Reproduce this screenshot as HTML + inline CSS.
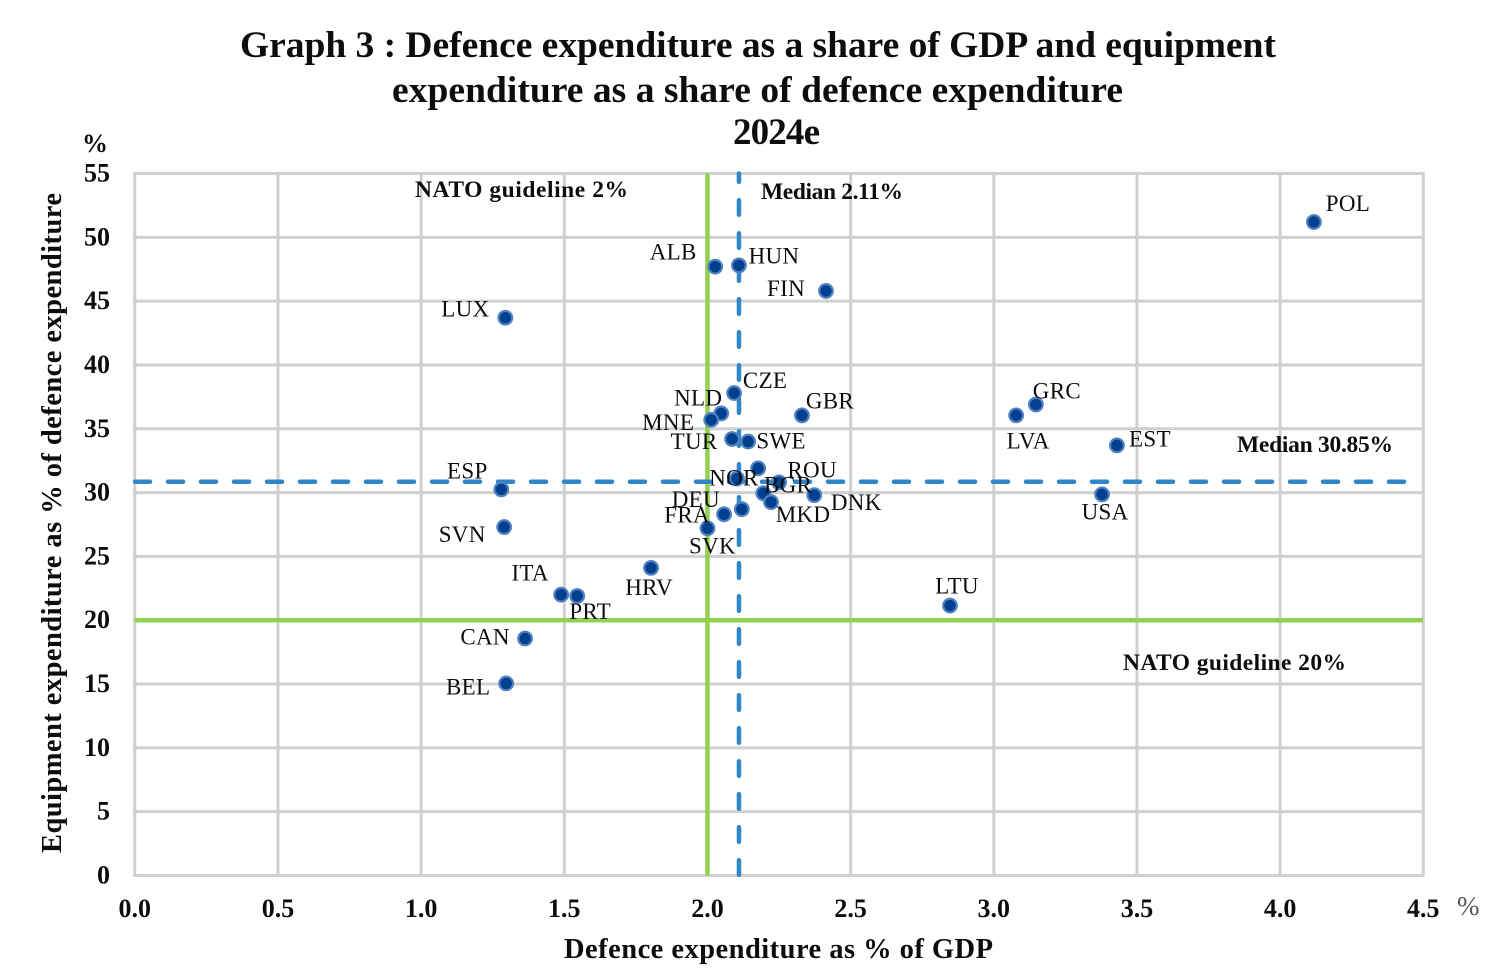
<!DOCTYPE html>
<html lang="en">
<head>
<meta charset="utf-8">
<title>Defence expenditure scatter</title>
<style>
html,body{margin:0;padding:0;background:#fff;width:1498px;height:970px;overflow:hidden}
svg{display:block}
text{font-family:"Liberation Serif",serif;fill:#0d0d0d}
.b{font-weight:bold}
.tick{font-weight:bold;font-size:26px}
.lab{font-size:23px;letter-spacing:.3px}
.note{font-weight:bold;font-size:23.5px}
</style>
</head>
<body>
<svg id="chart" width="1498" height="970" viewBox="0 0 1498 970" xmlns="http://www.w3.org/2000/svg">
  <text class="b" x="240" y="57" font-size="37.5" textLength="1036" lengthAdjust="spacing">Graph 3 : Defence expenditure as a share of GDP and equipment</text>
  <text class="b" x="392" y="102" font-size="37.5" textLength="731" lengthAdjust="spacing">expenditure as a share of defence expenditure</text>
  <text class="b" x="733" y="144" font-size="37" textLength="87" lengthAdjust="spacing">2024e</text>
  <text class="b" x="82" y="152" font-size="26">%</text>
  <text x="1457" y="915" font-size="27" style="fill:#555">%</text>
  <text class="b" x="564" y="958" font-size="28.5" textLength="429" lengthAdjust="spacing">Defence expenditure as % of GDP</text>
  <text class="b" transform="translate(61,853) rotate(-90)" font-size="28.5" textLength="660" lengthAdjust="spacing">Equipment expenditure as % of defence expenditure</text>
  <g id="grid"></g>
  <g id="guides"></g>
  <g id="xticks"></g>
  <g id="yticks"></g>
  <g id="points"></g>
  <g id="labels"></g>
  <text class="note" x="415" y="197" textLength="213" lengthAdjust="spacing">NATO guideline 2%</text>
  <text class="note" x="761" y="199" textLength="142" lengthAdjust="spacing">Median 2.11%</text>
  <text class="note" x="1237" y="452" textLength="156" lengthAdjust="spacing">Median 30.85%</text>
  <text class="note" x="1123" y="670" textLength="223" lengthAdjust="spacing">NATO guideline 20%</text>
</svg>
<script>
const xTickValues = [0, 0.5, 1, 1.5, 2, 2.5, 3, 3.5, 4, 4.5];
const yTickValues = [0, 5, 10, 15, 20, 25, 30, 35, 40, 45, 50, 55];
const countries = ["POL","ALB","HUN","FIN","LUX","CZE","NLD","MNE","GBR","TUR","SWE","GRC","LVA","EST","USA","ROU","NOR","BGR","","MKD","DNK","DEU","FRA","SVK","ESP","SVN","ITA","PRT","HRV","LTU","CAN","BEL"];
const defenceShare = [4.118,2.027,2.11,2.414,1.294,2.093,2.048,2.013,2.33,2.086,2.142,3.147,3.078,3.43,3.378,2.177,2.103,2.25,2.195,2.222,2.373,2.12,2.058,2.0,1.28,1.29,1.489,1.545,1.803,2.847,1.363,1.297];
const equipmentShare = [51.2,47.7,47.8,45.8,43.7,37.8,36.2,35.7,36.05,34.2,34.0,36.9,36.05,33.7,29.86,31.9,31.1,30.8,29.95,29.25,29.8,28.7,28.3,27.2,30.25,27.3,22.0,21.9,24.1,21.15,18.57,15.05];
const guidelineX = 2;
const guidelineY = 20;
const medianX = 2.11;
const medianY = 30.85;
const labelDx = [34,-42,35,-40,-40,31,-23,-43,28,-38,33,21,12,33,3,54,-3,9,0,32,42,-46,-37,5,-34,-42,-31,13,-2,7,-40,-38];
const labelDy = [-18,-14,-9,-2,-8,-12,-15,3,-14,3,0,-13,26,-6,18,2,0,3,0,13,8,-9,1,18,-18,8,-21,16,20,-19,-1,4];

const SVGNS = 'http://www.w3.org/2000/svg';
const X0 = 134.5, X1 = 1423, Y0 = 875.5, Y1 = 173.5;
const xMax = 4.5, yMax = 55;
const sx = v => X0 + (v / xMax) * (X1 - X0) + 0.3;
const sy = v => Y0 - (v / yMax) * (Y0 - Y1);
function mk(tag, attrs, parent) {
  const el = document.createElementNS(SVGNS, tag);
  for (const k in attrs) el.setAttribute(k, attrs[k]);
  parent.appendChild(el);
  return el;
}
const grid = document.getElementById('grid');
xTickValues.forEach(v => {
  const l = mk('line', {x1: sx(v), x2: sx(v), y1: Y1, y2: Y0, stroke: '#d0d0d0', 'stroke-width': 3}, grid);
  
  
});
yTickValues.forEach(v => {
  const l = mk('line', {x1: X0 - 1.5, x2: X1 + 1.5, y1: sy(v), y2: sy(v), stroke: '#d0d0d0', 'stroke-width': 3}, grid);
  
  
});
const guides = document.getElementById('guides');
const gv = mk('line', {x1: sx(guidelineX), x2: sx(guidelineX), y1: Y1, y2: Y0, stroke: '#92d050', 'stroke-width': 4.5}, guides);


const gh = mk('line', {x1: X0, x2: X1, y1: sy(guidelineY), y2: sy(guidelineY), stroke: '#92d050', 'stroke-width': 4.5}, guides);


const mv = mk('line', {x1: sx(medianX), x2: sx(medianX), y1: Y1, y2: Y0, stroke: '#2f86c9', 'stroke-width': 4.5, 'stroke-dasharray': '14.5 18.5', 'stroke-dashoffset': 6.25, 'stroke-linecap': 'round'}, guides);


const mh = mk('line', {x1: X0 + 0.5, x2: X1 - 10, y1: sy(medianY), y2: sy(medianY), stroke: '#2f86c9', 'stroke-width': 4.5, 'stroke-dasharray': '15 18', 'stroke-linecap': 'round'}, guides);


const xticks = document.getElementById('xticks');
xTickValues.forEach(v => {
  const t = mk('text', {x: sx(v), y: 917, 'text-anchor': 'middle', class: 'tick'}, xticks);
  t.textContent = v.toFixed(1);
  
  
});
const yticks = document.getElementById('yticks');
yTickValues.forEach(v => {
  const t = mk('text', {x: 110, y: sy(v) + 8, 'text-anchor': 'end', class: 'tick'}, yticks);
  t.textContent = String(v);
  
  
});
const points = document.getElementById('points');
const labels = document.getElementById('labels');
countries.forEach((c, i) => {
  const px = sx(defenceShare[i]), py = sy(equipmentShare[i]);
  const p = mk('circle', {cx: px, cy: py, r: 6.8, fill: '#00408f', stroke: '#4f80c0', 'stroke-width': 2.2}, points);
  
  
  if (c) {
    const t = mk('text', {x: px + labelDx[i], y: py + labelDy[i] + 7, 'text-anchor': 'middle', class: 'lab'}, labels);
    t.textContent = c;
    
    
  }
});
</script>
</body>
</html>
